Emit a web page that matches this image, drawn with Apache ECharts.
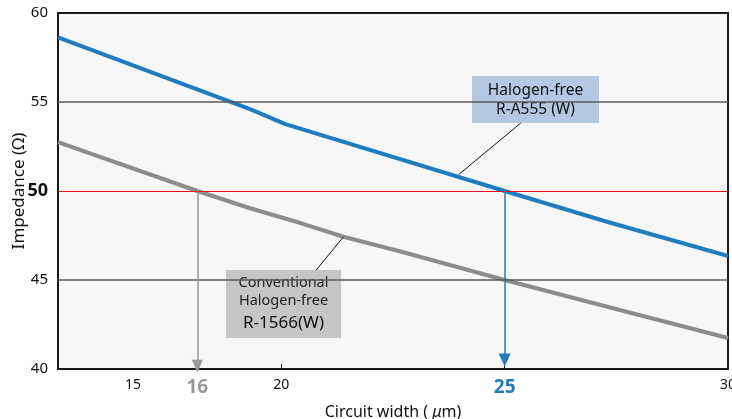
<!DOCTYPE html>
<html>
<head>
<meta charset="utf-8">
<script src="https://cdn.jsdelivr.net/npm/echarts@6/dist/echarts.min.js"></script>
<style>
  html, body { margin: 0; padding: 0; background: #fff; }
  #chart { width: 732px; height: 419px; }
</style>
</head>
<body>
<div id="chart"></div>
<script>
// circuit width (um) / impedance (ohm)
const widthA555 = [15, 19.3, 20.09, 25, 27.31, 30];
const impA555 = [58.63, 54.6, 53.76, 50.0, 48.26, 46.35];
const width1566 = [15, 18.12, 19.3, 20.43, 21.39, 22.67, 25, 27.6, 30];
const imp1566 = [52.75, 50.0, 49.03, 48.2, 47.43, 46.6, 45.0, 43.3, 41.74];

// x tick labels as printed (positions as they sit on the picture)
const xTickValues = [16.68, 18.12, 20, 25, 30];
const xTickLabels = ['15', '16', '20', '25', '30'];
const xTickMarks = [20, 25, 30];

const targetImp = 50;
const gridImp = [55, 45];

// leader lines from the name boxes to the curves
const leaderA555 = [[25.36, 53.82], [23.97, 50.92]];
const leader1566 = [[20.78, 45.56], [21.39, 47.42]];

const BLUE = '#1e7cbf';
const GRAY = '#8c8c8c';
const FONT = 'Noto Sans';

const chart = echarts.init(document.getElementById('chart'));

const toPairs = (xs, ys) => xs.map((x, i) => [x, ys[i]]);

chart.setOption({
  animation: false,
  textStyle: { fontFamily: FONT },
  grid: {
    left: 58, right: 4, top: 13, bottom: 50,
    outerBoundsMode: 'none',
    containLabel: false,
    show: true,
    backgroundColor: '#f7f7f7',
    borderColor: '#1a1a1a',
    borderWidth: 2
  },
  xAxis: {
    type: 'value',
    min: 15,
    max: 30,
    name: 'Circuit width ( {i|μ}m)',
    nameLocation: 'middle',
    nameGap: 35,
    nameMoveOverlap: false,
    nameTextStyle: {
      fontSize: 16, color: '#111', fontFamily: FONT,
      rich: { i: { fontSize: 16, fontStyle: 'italic', color: '#111', fontFamily: FONT } }
    },
    axisLine: { show: false },
    splitLine: { show: false },
    axisTick: {
      show: true, inside: true, length: 5,
      customValues: xTickMarks,
      lineStyle: { color: '#1a1a1a', width: 1 }
    },
    axisLabel: {
      customValues: xTickValues,
      margin: 9,
      fontSize: 14,
      color: '#111',
      showMinLabel: true,
      showMaxLabel: true,
      formatter: function (v) {
        const i = xTickValues.indexOf(v);
        const t = i >= 0 ? xTickLabels[i] : '';
        if (t === '16') return '{g|16}';
        if (t === '25') return '{b|25}';
        return t;
      },
      rich: {
        g: { fontSize: 19, fontWeight: 'bold', color: '#999', fontFamily: FONT },
        b: { fontSize: 19, fontWeight: 'bold', color: BLUE, fontFamily: FONT }
      }
    }
  },
  yAxis: {
    type: 'value',
    min: 40,
    max: 60,
    interval: 5,
    name: 'Impedance (Ω)',
    nameLocation: 'middle',
    nameRotate: 90,
    nameGap: 30,
    nameMoveOverlap: false,
    nameTextStyle: { fontSize: 17, color: '#111' },
    axisLine: { show: false },
    axisTick: { show: false },
    splitLine: { show: false },
    axisLabel: {
      margin: 10,
      fontSize: 15,
      color: '#111',
      formatter: function (v) { return v === targetImp ? '{b|50}' : String(v); },
      rich: { b: { fontSize: 18, fontWeight: 'bold', color: '#111', fontFamily: FONT } }
    }
  },
  series: [
    {
      // reference lines
      type: 'line',
      data: [],
      z: 1,
      markLine: {
        silent: true,
        symbol: ['none', 'none'],
        label: { show: false },
        animation: false,
        data: [
          { yAxis: gridImp[0], lineStyle: { color: '#5a5a5a', width: 1.6, type: 'solid' } },
          { yAxis: gridImp[1], lineStyle: { color: '#5a5a5a', width: 1.6, type: 'solid' } },
          { yAxis: targetImp, lineStyle: { color: '#e8101a', width: 1, type: 'solid' } }
        ]
      }
    },
    {
      // arrows down to the axis + leader lines
      type: 'line',
      data: [],
      z: 2,
      markLine: {
        silent: true,
        symbol: ['none', 'none'],
        label: { show: false },
        animation: false,
        data: [
          [
            { coord: [width1566[1], targetImp], symbol: 'none', lineStyle: { color: '#999', width: 1.5, type: 'solid' } },
            { coord: [width1566[1], 40.15], symbol: 'triangle', symbolSize: [11, 13] }
          ],
          [
            { coord: [widthA555[3], targetImp], symbol: 'none', lineStyle: { color: BLUE, width: 1.5, type: 'solid' } },
            { coord: [widthA555[3], 40.5], symbol: 'triangle', symbolSize: [12, 13] }
          ],
          [
            { coord: leaderA555[0], lineStyle: { color: '#111', width: 1, type: 'solid' } },
            { coord: leaderA555[1] }
          ],
          [
            { coord: leader1566[0], lineStyle: { color: '#111', width: 1, type: 'solid' } },
            { coord: leader1566[1] }
          ]
        ]
      }
    },
    {
      name: 'R-1566(W)',
      type: 'line',
      data: toPairs(width1566, imp1566),
      showSymbol: false,
      z: 3,
      lineStyle: { color: GRAY, width: 4 }
    },
    {
      name: 'R-A555 (W)',
      type: 'line',
      data: toPairs(widthA555, impA555),
      showSymbol: false,
      z: 4,
      lineStyle: { color: BLUE, width: 4 }
    }
  ],
  graphic: [
    {
      type: 'group',
      left: 472, top: 76,
      z: 10,
      children: [
        { type: 'rect', shape: { x: 0, y: 0, width: 127, height: 47 }, style: { fill: '#b4c8e4' } },
        {
          type: 'text', x: 63.5, y: 24,
          style: {
            text: 'Halogen-free\nR-A555 (W)',
            align: 'center', verticalAlign: 'middle',
            fontSize: 15.5, lineHeight: 19, fill: '#111', fontFamily: FONT
          }
        }
      ]
    },
    {
      type: 'group',
      left: 226, top: 270,
      z: 10,
      children: [
        { type: 'rect', shape: { x: 0, y: 0, width: 115, height: 68 }, style: { fill: '#c6c6c6' } },
        {
          type: 'text', x: 57.5, y: 22,
          style: {
            text: 'Conventional\nHalogen-free',
            align: 'center', verticalAlign: 'middle',
            fontSize: 14.5, lineHeight: 18, fill: '#222', fontFamily: FONT
          }
        },
        {
          type: 'text', x: 57.5, y: 53,
          style: {
            text: 'R-1566(W)',
            align: 'center', verticalAlign: 'middle',
            fontSize: 17, fill: '#111', fontFamily: FONT
          }
        }
      ]
    }
  ]
});
</script>
</body>
</html>
